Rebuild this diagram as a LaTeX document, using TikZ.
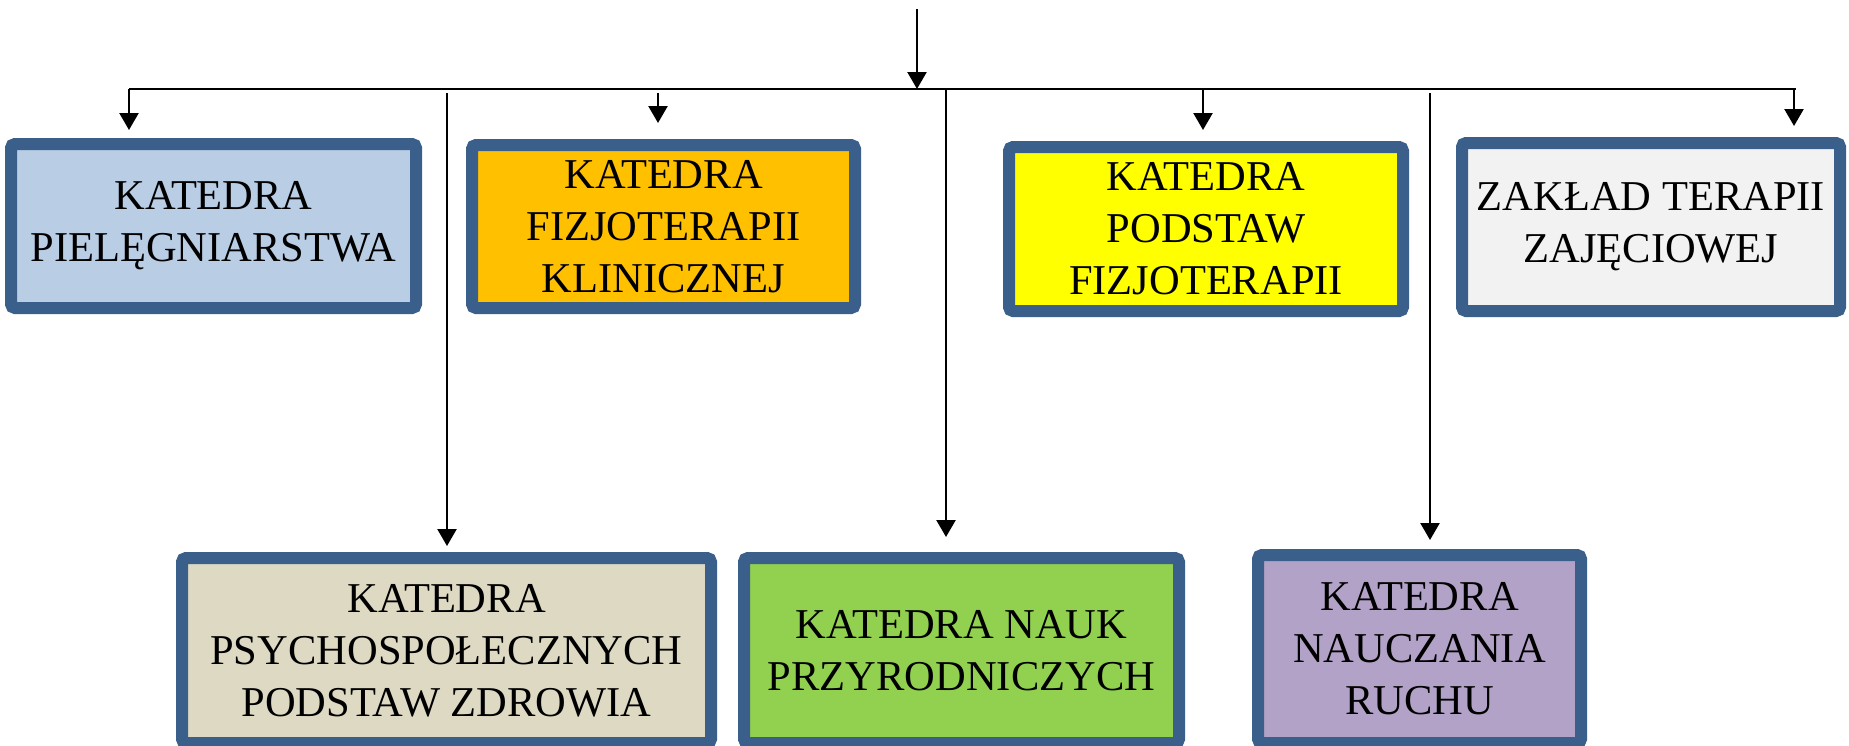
\documentclass[tikz,border=0pt]{standalone}
\usepackage{fontspec}
\setmainfont{Liberation Serif}
\usetikzlibrary{arrows.meta}

\definecolor{frame}{RGB}{58,95,139}
\definecolor{cpie}{RGB}{185,205,229}
\definecolor{cfiz}{RGB}{255,192,0}
\definecolor{cpod}{RGB}{255,255,0}
\definecolor{czak}{RGB}{242,242,242}
\definecolor{cpsy}{RGB}{221,217,195}
\definecolor{cnau}{RGB}{146,208,80}
\definecolor{cruc}{RGB}{179,162,199}

\begin{document}
\begin{tikzpicture}
      [x=1pt, y=-1pt,
      unit/.style={rectangle, draw=frame, line width=12pt, rounded corners=4pt,
        inner sep=0pt, align=center, font=\fontsize{42.5}{52}\selectfont},
      bus/.style={line width=2.2pt},
      arr/.style={-{Triangle[width=19pt,length=17pt]}, line width=2.4pt}]
      \useasboundingbox (0, 0) rectangle (1849, 745);
      % upper row
      \node (pie) at (213.5, 226) [unit, fill=cpie, minimum width=405pt, minimum height=164pt]
        {KATEDRA\\PIELĘGNIARSTWA};
      \node (fiz) at (663.5, 226.5) [unit, fill=cfiz, minimum width=383pt, minimum height=163pt]
        {KATEDRA\\FIZJOTERAPII\\KLINICZNEJ};
      \node (pod) at (1206, 229) [unit, fill=cpod, minimum width=394pt, minimum height=164pt]
        {KATEDRA\\PODSTAW\\FIZJOTERAPII};
      \node (zak) at (1651, 227) [unit, fill=czak, minimum width=378pt, minimum height=168pt]
        {ZAKŁAD TERAPII\\ZAJĘCIOWEJ};
      % lower row
      \node (psy) at (446.5, 650.5) [unit, fill=cpsy, minimum width=529pt, minimum height=185pt]
        {KATEDRA\\PSYCHOSPOŁECZNYCH\\PODSTAW ZDROWIA};
      \node (nau) at (961.5, 650.5) [unit, fill=cnau, minimum width=435pt, minimum height=185pt]
        {KATEDRA NAUK\\PRZYRODNICZYCH};
      \node (ruc) at (1419.5, 649) [unit, fill=cruc, minimum width=323pt, minimum height=188pt]
        {KATEDRA\\NAUCZANIA\\RUCHU};
      % bus line
      \coordinate (in) at (917, 9);
      \coordinate (busM) at (917, 89);
      \coordinate (busL) at (129, 89);
      \coordinate (busR) at (1796, 89);
      \draw[bus] (busL) -- (busR);
      \draw[arr] (in) -- (busM);
      % branches
      \coordinate (bfiz) at (658, 93);
      \coordinate (bpod) at (1203, 89);
      \coordinate (bzak) at (1794, 89);
      \coordinate (bpsy) at (447, 93);
      \coordinate (bnau) at (946, 89);
      \coordinate (bruc) at (1430, 93);
      \draw[arr, shorten >=8pt] (busL) -- (busL |- pie.north);
      \draw[arr, shorten >=16pt] (bfiz) -- (bfiz |- fiz.north);
      \draw[arr, shorten >=11pt] (bpod) -- (bpod |- pod.north);
      \draw[arr, shorten >=11pt] (bzak) -- (bzak |- zak.north);
      \draw[arr, shorten >=6pt] (bpsy) -- (bpsy |- psy.north);
      \draw[arr, shorten >=15pt] (bnau) -- (bnau |- nau.north);
      \draw[arr, shorten >=9pt] (bruc) -- (bruc |- ruc.north);
    \end{tikzpicture}
\end{document}
